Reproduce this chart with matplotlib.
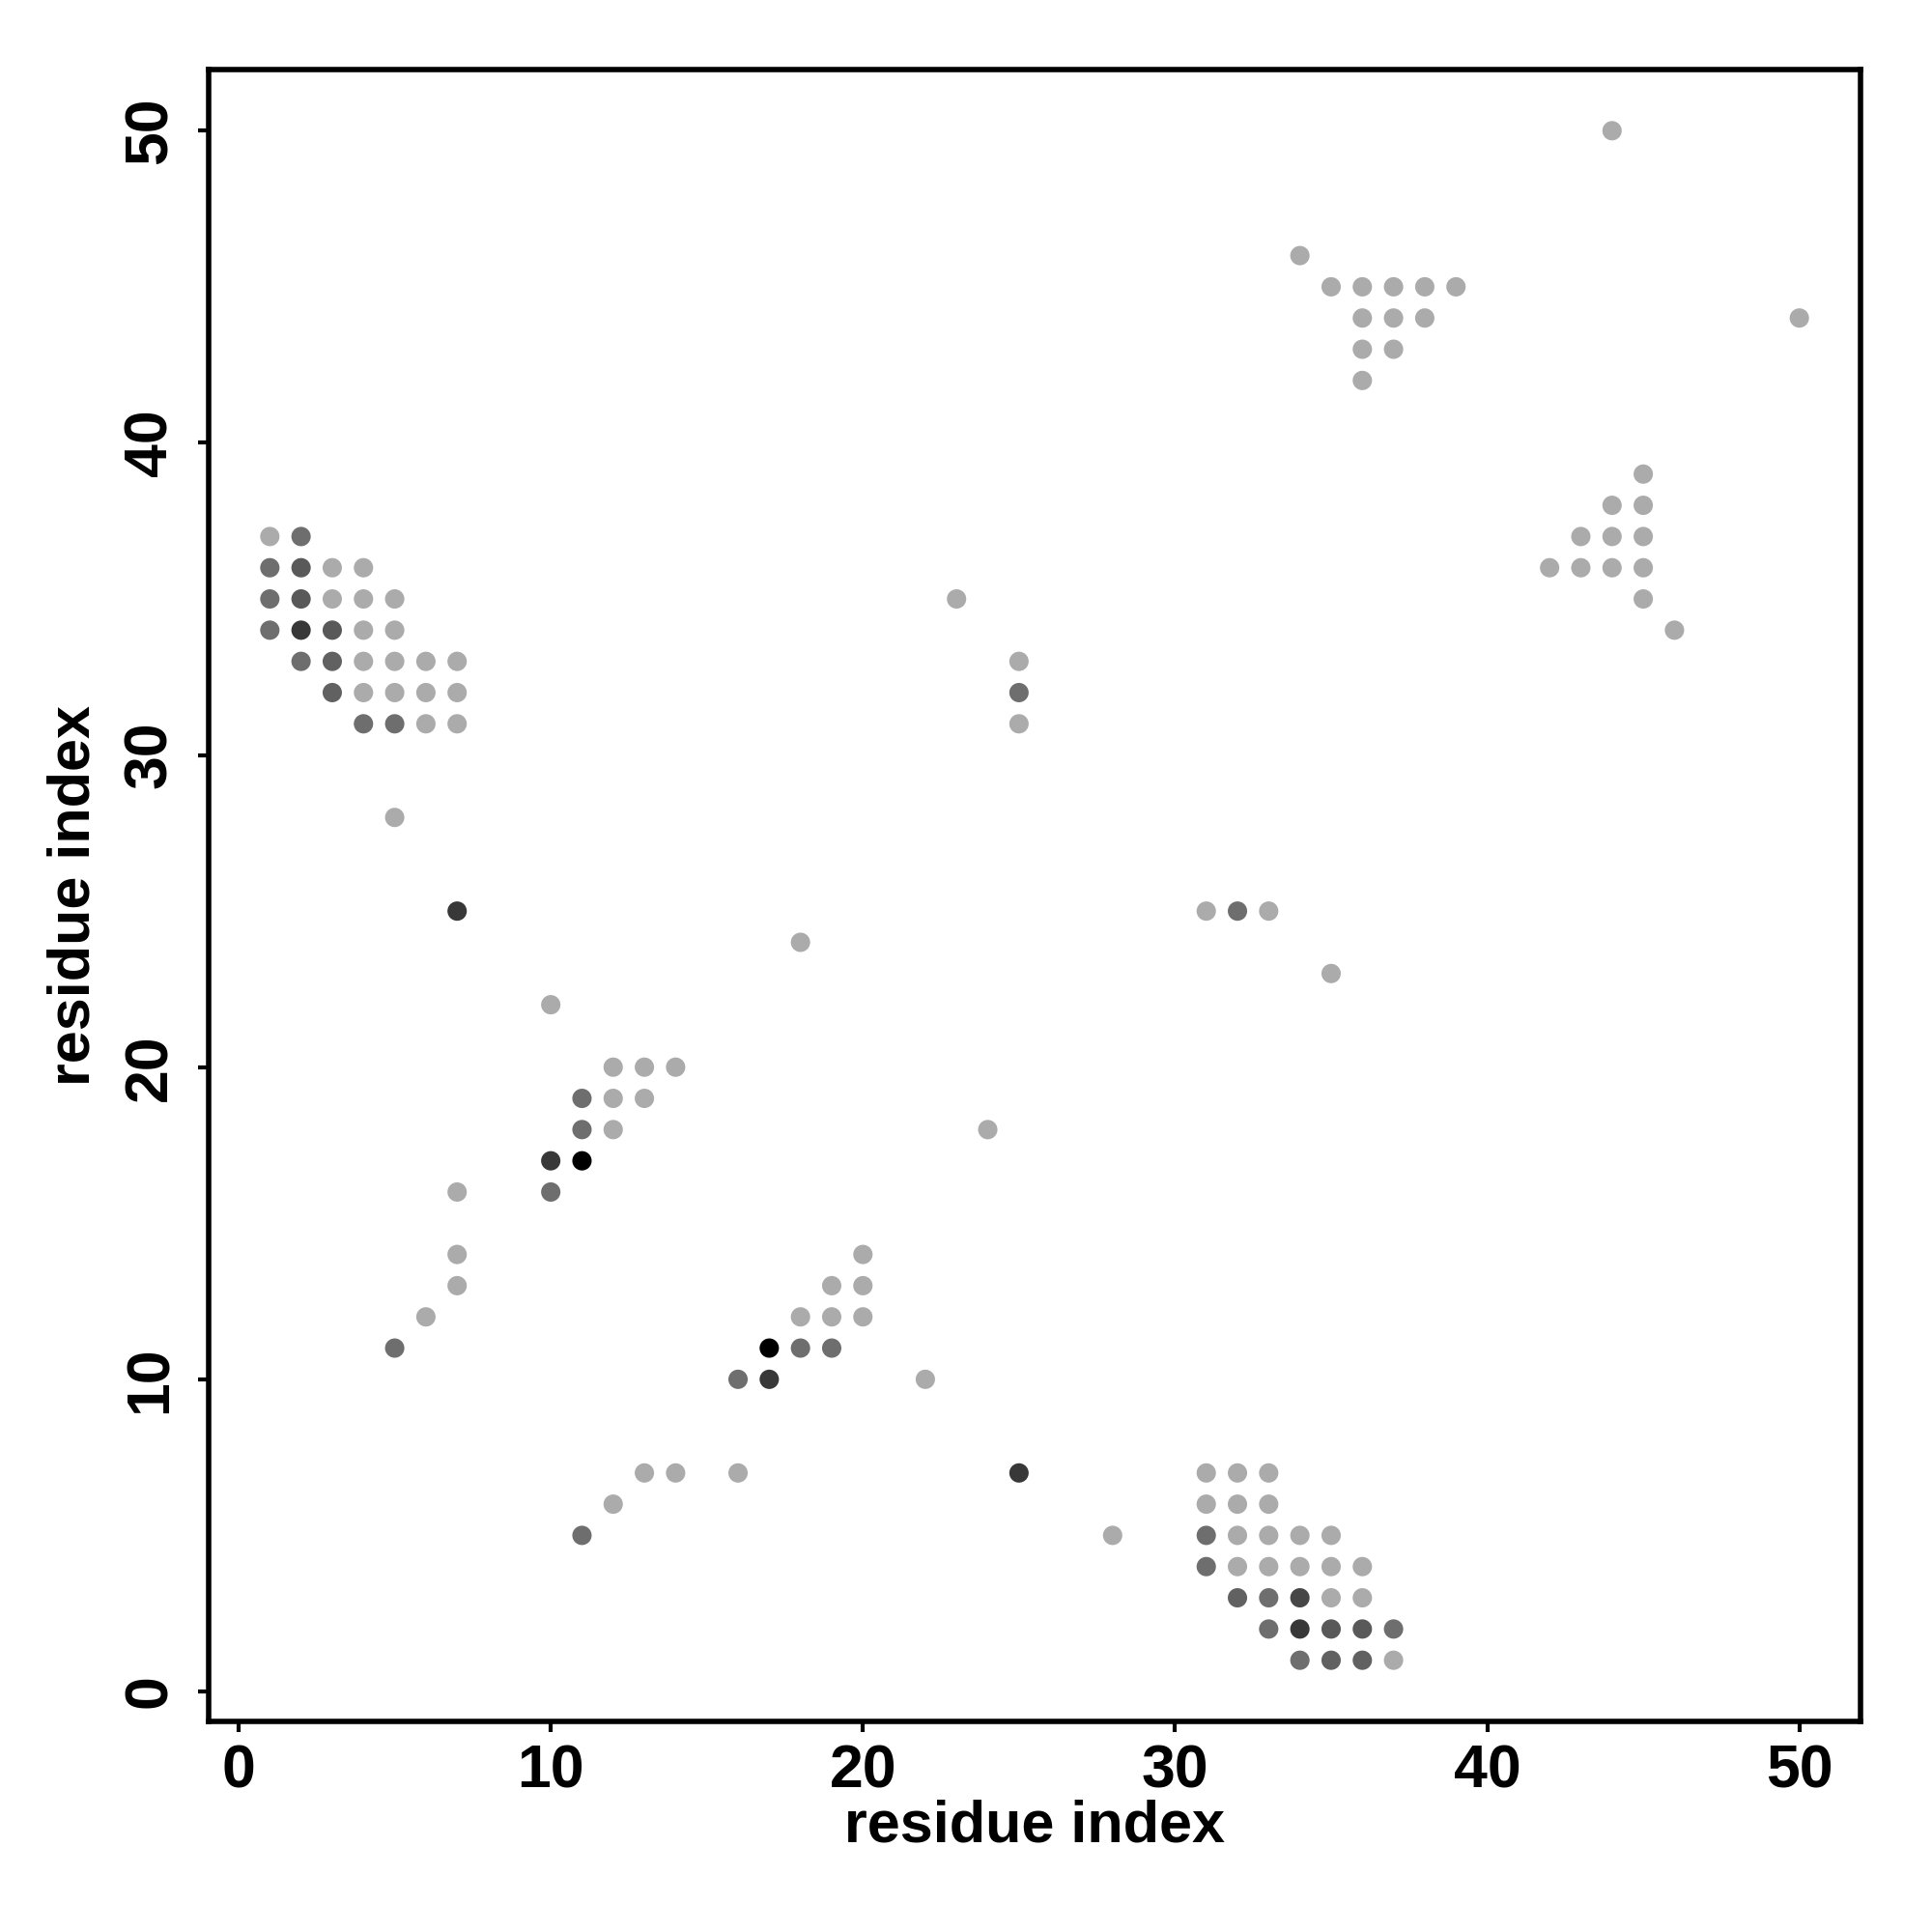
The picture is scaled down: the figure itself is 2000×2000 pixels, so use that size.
import matplotlib
matplotlib.use("Agg")
import matplotlib.pyplot as plt

# contact points: residue i, residue j, grey level (0 = black, 1 = white)
L, M, D, DD, K = 0.67, 0.43, 0.35, 0.22, 0.0

xs = [1, 2,
      1, 2, 3, 4,
      1, 2, 3, 4, 5,
      1, 2, 3, 4, 5,
      2, 3, 4, 5, 6, 7,
      3, 4, 5, 6, 7,
      4, 5, 6, 7,
      5, 7, 10,
      11, 12, 13, 14, 12, 13, 11, 12,
      10, 11, 10,
      7, 7, 7, 6, 5,
      18, 23, 25, 25, 25, 24,
      20, 19, 20, 18, 19, 20, 17, 18, 19, 16, 17, 22,
      16, 13, 14, 12, 11, 25, 28,
      31, 32, 33, 35,
      31, 32, 33,
      31, 32, 33,
      31, 32, 33, 34, 35,
      31, 32, 33, 34, 35, 36,
      32, 33, 34, 35, 36,
      33, 34, 35, 36, 37,
      34, 35, 36, 37,
      34, 35, 36, 37, 38, 39, 36, 37, 38, 36, 37, 36,
      44, 50,
      45, 44, 45, 43, 44, 45, 42, 43, 44, 45, 45, 46]

ys = [37, 37,
      36, 36, 36, 36,
      35, 35, 35, 35, 35,
      34, 34, 34, 34, 34,
      33, 33, 33, 33, 33, 33,
      32, 32, 32, 32, 32,
      31, 31, 31, 31,
      28, 25, 22,
      19, 20, 20, 20, 19, 19, 18, 18,
      17, 17, 16,
      16, 14, 13, 12, 11,
      24, 35, 33, 32, 31, 18,
      14, 13, 13, 12, 12, 12, 11, 11, 11, 10, 10, 10,
      7, 7, 7, 6, 5, 7, 5,
      25, 25, 25, 23,
      7, 7, 7,
      6, 6, 6,
      5, 5, 5, 5, 5,
      4, 4, 4, 4, 4, 4,
      3, 3, 3, 3, 3,
      2, 2, 2, 2, 2,
      1, 1, 1, 1,
      46, 45, 45, 45, 45, 45, 44, 44, 44, 43, 43, 42,
      50, 44,
      39, 38, 38, 37, 37, 37, 36, 36, 36, 36, 35, 34]

shade = [L, M,
         M, D, L, L,
         M, D, L, L, L,
         M, DD, D, L, L,
         M, 0.38, L, L, L, L,
         0.38, L, L, L, L,
         M, M, L, L,
         L, DD, L,
         M, L, L, L, L, L, M, L,
         DD, K, M,
         L, L, L, L, M,
         L, L, L, M, L, L,
         L, L, L, L, L, L, K, M, M, M, DD, L,
         L, L, L, L, M, DD, L,
         L, M, L, L,
         L, L, L,
         L, L, L,
         M, L, L, L, L,
         M, L, L, L, L, L,
         0.38, M, 0.28, L, L,
         M, DD, D, D, M,
         M, 0.38, 0.38, L,
         L, L, L, L, L, L, L, L, L, L, L, L,
         L, L,
         L, L, L, L, L, L, L, L, L, L, L, L]

colors = [(s, s, s) for s in shade]

plt.rcParams['font.family'] = ['Liberation Sans', 'DejaVu Sans']
plt.rcParams['font.weight'] = 'bold'

fig = plt.figure(figsize=(10, 10), dpi=200)
ax = fig.add_axes([0.108, 0.109, 0.855, 0.855])

ax.scatter(xs, ys, s=52, c=colors, linewidths=0)

ax.set_xlim(-0.96, 51.96)
ax.set_ylim(-0.96, 51.96)
ax.set_xticks([0, 10, 20, 30, 40, 50])
ax.set_yticks([0, 10, 20, 30, 40, 50])

for sp in ax.spines.values():
    sp.set_linewidth(2.0)

ax.tick_params(direction='out', length=4, width=1.5, labelsize=22.5, pad=4)
ax.tick_params(axis='y', pad=7)
for lab in ax.get_yticklabels():
    lab.set_rotation(90)
    lab.set_va('center')
for lab in ax.get_xticklabels() + ax.get_yticklabels():
    lab.set_fontweight('bold')

ax.set_xlabel('residue index', fontsize=22, fontweight='bold')
ax.set_ylabel('residue index', fontsize=22, fontweight='bold')
ax.xaxis.label.set_va('center')
ax.yaxis.label.set_va('center')
ax.xaxis.set_label_coords(0.5, -0.064)
ax.yaxis.set_label_coords(-0.081, 0.5)

fig.savefig('out.png', dpi=200, facecolor='white')
